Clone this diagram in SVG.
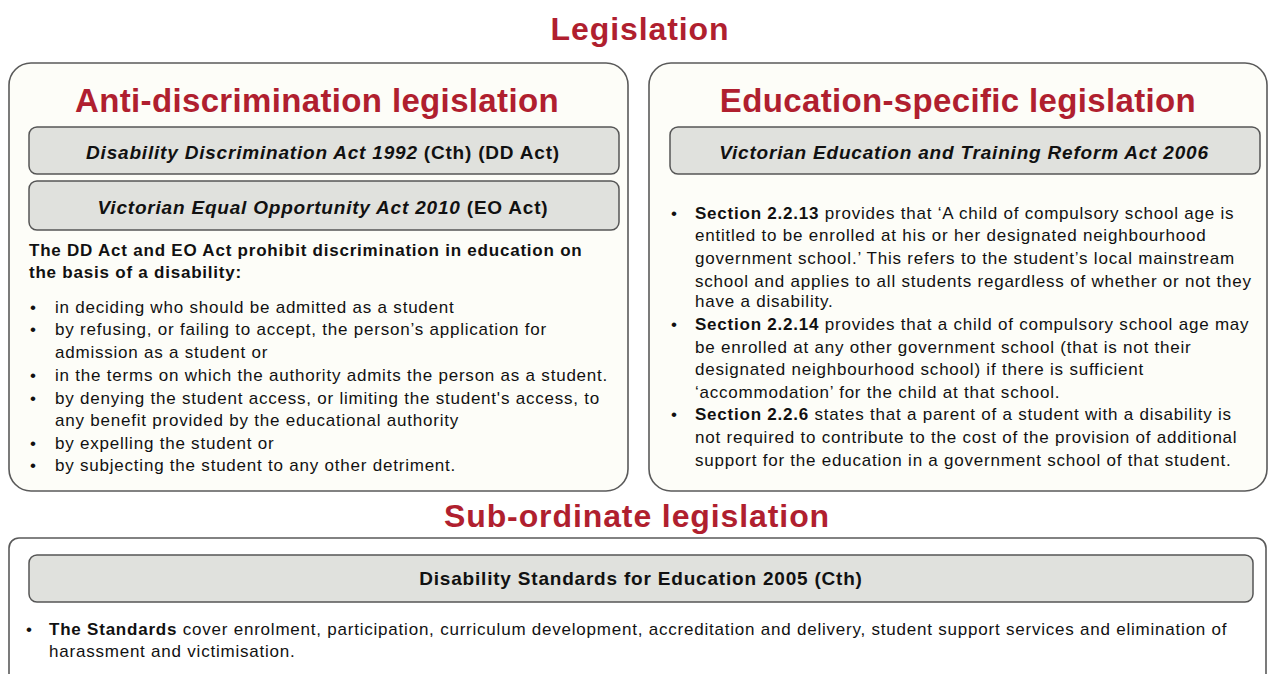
<svg xmlns="http://www.w3.org/2000/svg" width="1268" height="674" viewBox="0 0 1268 674">
<style>
text{font-family:"Liberation Sans",Arial,sans-serif;fill:#111}
.h1{font-size:32px;font-weight:bold;fill:#b01f2f;text-anchor:middle;letter-spacing:0.9px}
.h2{font-size:33px;font-weight:bold;fill:#b01f2f;text-anchor:middle;letter-spacing:0.35px}
.panel{fill:#fdfdf8;stroke:#5a5a5a;stroke-width:1.6}
.act{fill:#e0e1dd;stroke:#555;stroke-width:1.5}
.actt{font-size:19px;font-weight:bold;text-anchor:middle;letter-spacing:0.8px}
.body{font-size:17px;letter-spacing:0.78px}
.b{font-weight:bold}
.i{font-style:italic}
</style>
<rect width="1268" height="674" fill="#ffffff"/>
<text class="h1" x="640" y="40">Legislation</text>

<g id="anti">
<rect class="panel" x="9" y="63" width="619" height="428" rx="22"/>
<text class="h2" x="317" y="112">Anti-discrimination legislation</text>
<rect class="act" x="29" y="127" width="590" height="47" rx="8"/>
<text class="actt" x="323" y="159"><tspan class="i">Disability Discrimination Act 1992</tspan> (Cth) (DD Act)</text>
<rect class="act" x="29" y="181" width="590" height="49" rx="8"/>
<text class="actt" x="323" y="214"><tspan class="i">Victorian Equal Opportunity Act 2010</tspan> (EO Act)</text>
<text class="body b" x="29" y="256">The DD Act and EO Act prohibit discrimination in education on</text>
<text class="body b" x="29" y="278">the basis of  a disability:</text>
<g class="body">
<text x="30" y="313">•</text><text x="55" y="313">in deciding who should be admitted as a student</text>
<text x="30" y="335">•</text><text x="55" y="335">by refusing, or failing to accept, the person’s application for</text>
<text x="55" y="358">admission as a student or</text>
<text x="30" y="381">•</text><text x="55" y="381">in the terms on which the authority admits the person as a student.</text>
<text x="30" y="404">•</text><text x="55" y="404">by denying the student access, or limiting the student's access, to</text>
<text x="55" y="426">any benefit provided by the educational authority</text>
<text x="30" y="449">•</text><text x="55" y="449">by expelling the student or</text>
<text x="30" y="471">•</text><text x="55" y="471">by subjecting the student to any other detriment.</text>
</g>
</g>

<g id="edu">
<rect class="panel" x="649" y="63" width="618" height="428" rx="22"/>
<text class="h2" x="958" y="112">Education-specific legislation</text>
<rect class="act" x="670" y="127" width="590" height="47" rx="8"/>
<text class="actt i" x="964" y="159">Victorian Education and Training Reform Act 2006</text>
<g class="body">
<text x="671" y="219">•</text><text x="695" y="219"><tspan class="b">Section 2.2.13</tspan> provides that ‘A child of compulsory school age is</text>
<text x="695" y="241">entitled to be enrolled at his or her designated neighbourhood</text>
<text x="695" y="264">government school.’ This refers to the student’s local mainstream</text>
<text x="695" y="287">school and applies to all students regardless of whether or not they</text>
<text x="695" y="307">have a disability.</text>
<text x="671" y="330">•</text><text x="695" y="330"><tspan class="b">Section 2.2.14</tspan> provides that a child of compulsory school age may</text>
<text x="695" y="353">be enrolled at any other government school (that is not their</text>
<text x="695" y="375">designated neighbourhood school) if there is sufficient</text>
<text x="695" y="398">‘accommodation’ for the child at that school.</text>
<text x="671" y="420">•</text><text x="695" y="420"><tspan class="b">Section 2.2.6</tspan> states that a parent of a student with a disability is</text>
<text x="695" y="443">not required to contribute to the cost of the provision of additional</text>
<text x="695" y="466">support for the education in a government school of that student.</text>
</g>
</g>

<text class="h1" x="637" y="527">Sub-ordinate legislation</text>

<g id="sub">
<rect class="panel" x="9" y="538" width="1257" height="160" rx="10" style="fill:#ffffff"/>
<rect class="act" x="29" y="555" width="1224" height="47" rx="8"/>
<text class="actt" x="641" y="585">Disability Standards for Education 2005 (Cth)</text>
<g class="body">
<text x="26" y="635">•</text><text x="49" y="635"><tspan class="b">The Standards</tspan> cover enrolment, participation, curriculum development, accreditation and delivery, student support services and elimination of</text>
<text x="49" y="657">harassment and victimisation.</text>
</g>
</g>
<g id="connectors"/>
</svg>
